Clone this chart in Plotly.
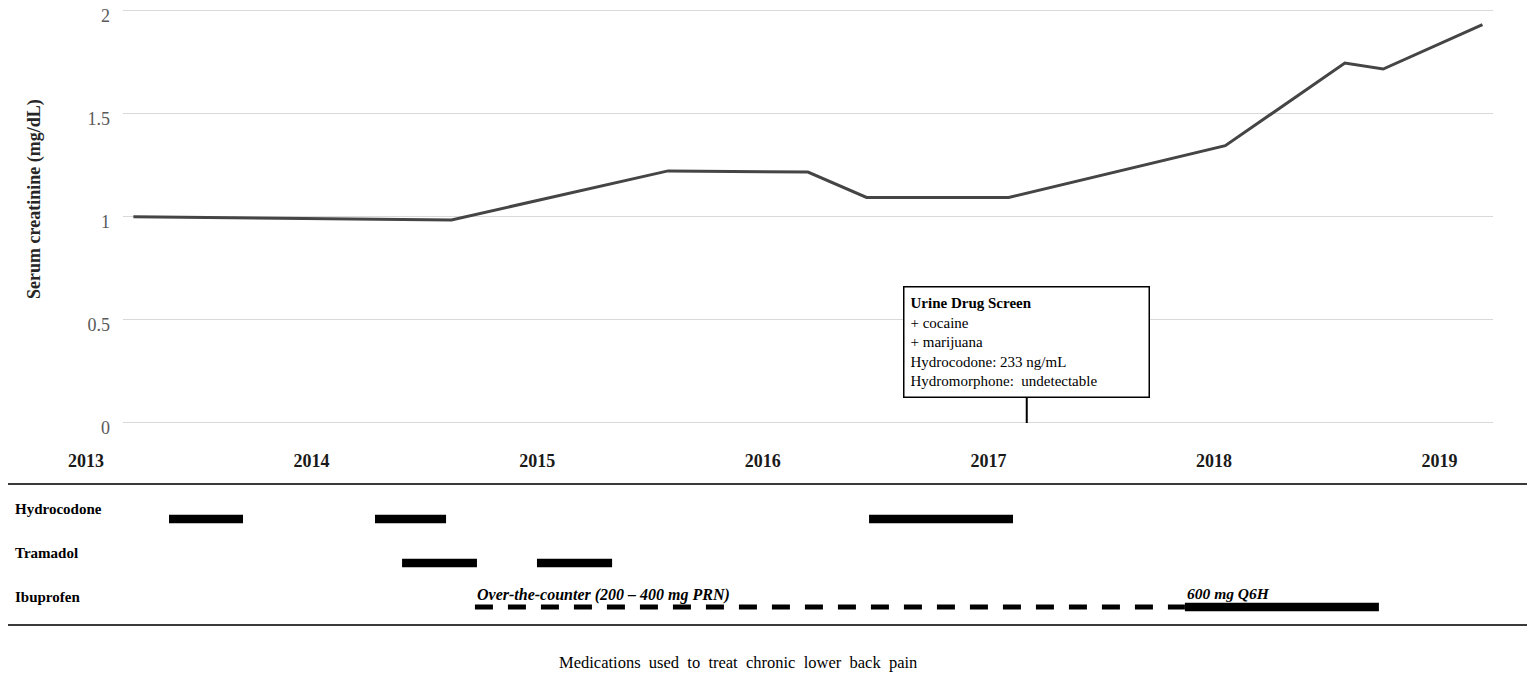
import plotly.graph_objects as go

# serum creatinine readings (decimal year, mg/dL)
scr_year = [2013.21, 2014.62, 2015.58, 2016.20, 2016.46, 2017.09, 2018.05, 2018.58, 2018.75, 2019.19]
scr_value = [1.00, 0.985, 1.223, 1.217, 1.094, 1.094, 1.345, 1.746, 1.717, 1.932]

years = [2013, 2014, 2015, 2016, 2017, 2018, 2019]
y_ticks = [0, 0.5, 1, 1.5, 2]
y_labels = ["0", "0.5", "1", "1.5", "2"]

meds = ["Hydrocodone", "Tramadol", "Ibuprofen"]
# solid treatment periods: (medication, start, end)
med_drug = ["Hydrocodone", "Hydrocodone", "Hydrocodone", "Tramadol", "Tramadol", "Ibuprofen"]
med_start = [2013.368, 2014.281, 2016.471, 2014.401, 2014.999, 2017.871]
med_end = [2013.696, 2014.596, 2017.109, 2014.733, 2015.332, 2018.731]
# over-the-counter ibuprofen (dashed)
otc_start = 2014.724
otc_end = 2017.871

uds_year = 2017.17
uds_text = ("<b>Urine Drug Screen</b><br>+ cocaine<br>+ marijuana<br>"
            "Hydrocodone: 233 ng/mL<br>Hydromorphone: \u00a0undetectable")

OFF_X, OFF_Y = 8, 8   # page body margin
W, H = 1535 - OFF_X, 673 - OFF_Y
X0_PX, PX_PER_YEAR = 86, 225.6  # pixel position of 2013 label, pixels per year


def px_to_year(px):
    return 2013 + (px - X0_PX) / PX_PER_YEAR


def fx(px):
    return min(max((px - OFF_X) / W, 0), 1)


def fy(px):
    return min(max(1 - (px - OFF_Y) / H, 0), 1)


SERIF = "Liberation Serif"

fig = go.Figure()

fig.add_trace(go.Scatter(x=scr_year, y=scr_value, mode="lines",
                         line=dict(color="#454545", width=3),
                         xaxis="x", yaxis="y", showlegend=False))

for d, s, e in zip(med_drug, med_start, med_end):
    fig.add_trace(go.Bar(y=[d], x=[e - s], base=[s], orientation="h",
                         width=0.19, marker=dict(color="black", line=dict(width=0)),
                         xaxis="x2", yaxis="y2", showlegend=False))

fig.add_trace(go.Scatter(x=[otc_start, otc_end], y=["Ibuprofen", "Ibuprofen"],
                         mode="lines", line=dict(color="black", width=5, dash="18px,15px"),
                         xaxis="x2", yaxis="y2", showlegend=False))

annotations = [
    dict(x=uds_year, y=0, xref="x", yref="y", text=uds_text, showarrow=True,
         arrowhead=0, arrowwidth=2, arrowcolor="black", ax=0, ay=-81,
         align="left", width=232, height=97, borderpad=6,
         bordercolor="black", borderwidth=1.5, bgcolor="white",
         font=dict(family=SERIF, size=15, color="black")),
    dict(x=fx(35), y=fy(199), xref="paper", yref="paper",
         xanchor="center", yanchor="middle",
         text="<b>Serum creatinine (mg/dL)</b>", textangle=-90, showarrow=False,
         font=dict(family=SERIF, size=18, color="#262626")),
    dict(x=otc_start, y="Ibuprofen", xref="x2", yref="y2", xanchor="left",
         yanchor="bottom", yshift=1, showarrow=False,
         text="<i>Over-the-counter (200 – 400 mg PRN)</i>",
         font=dict(family=SERIF, size=16, color="black", weight="bold")),
    dict(x=med_start[-1], y="Ibuprofen", xref="x2", yref="y2", xanchor="left",
         yanchor="bottom", yshift=3, showarrow=False, text="<i>600 mg Q6H</i>",
         font=dict(family=SERIF, size=15.5, color="black", weight="bold")),
    dict(x=fx(738), y=fy(662), xref="paper", yref="paper", showarrow=False,
         xanchor="center", yanchor="middle",
         text="Medications \u00a0used \u00a0to \u00a0treat \u00a0chronic \u00a0lower \u00a0back \u00a0pain",
         font=dict(family=SERIF, size=16.5, color="black")),
]
for m in meds:
    annotations.append(dict(x=fx(13), y=m, xref="paper", yref="y2", xanchor="left",
                            yanchor="middle", yshift=10, showarrow=False,
                            text="<b>" + m + "</b>",
                            font=dict(family=SERIF, size=15, color="black")))

# top panel: y=0 at 423 px, y=2 at 10.7 px
y_lo, y_hi = -0.02, 2.01
px_per_unit = (423 - 10.7) / 2
top_px = 10.7 - (y_hi - 2) * px_per_unit
bot_px = 423 + (0 - y_lo) * px_per_unit

row_px = {"top": 485, "bottom": 624, "first": 519, "last": 607}
row_step = (row_px["last"] - row_px["first"]) / (len(meds) - 1)

fig.update_layout(
    width=W, height=H,
    margin=dict(l=0, r=0, t=0, b=0),
    plot_bgcolor="white", paper_bgcolor="white",
    barmode="overlay",
    xaxis=dict(domain=[fx(123), fx(1493)], range=[px_to_year(123), px_to_year(1493)],
               showgrid=False, zeroline=False, showticklabels=False, anchor="y"),
    yaxis=dict(domain=[fy(bot_px), fy(top_px)], range=[y_lo, y_hi],
               tickvals=y_ticks, ticktext=y_labels, showgrid=True,
               gridcolor="#d9d9d9", gridwidth=1.3, zeroline=False, showline=False,
               ticklabelstandoff=12, ticklabelshift=5,
               ticklabeloverflow="allow", automargin=False,
               anchor="x", tickfont=dict(family=SERIF, size=18, color="#595959")),
    xaxis2=dict(domain=[fx(8), fx(1528)], range=[px_to_year(8), px_to_year(1528)],
                side="top", tickvals=years, ticktext=[str(y) for y in years],
                ticks="outside", ticklen=9, tickcolor="rgba(0,0,0,0)",
                showgrid=False, zeroline=False, showline=True, mirror=True,
                linecolor="#3a3a3a", linewidth=2, anchor="y2",
                tickfont=dict(family=SERIF, size=18, color="#1a1a1a", weight="bold")),
    yaxis2=dict(domain=[fy(row_px["bottom"]), fy(row_px["top"])],
                categoryorder="array", categoryarray=meds,
                range=[len(meds) - 1 + (row_px["bottom"] - row_px["last"]) / row_step,
                       -(row_px["first"] - row_px["top"]) / row_step],
                showticklabels=False, showgrid=False, zeroline=False, anchor="x2"),
    annotations=annotations,
)

fig.write_html("out.html")
